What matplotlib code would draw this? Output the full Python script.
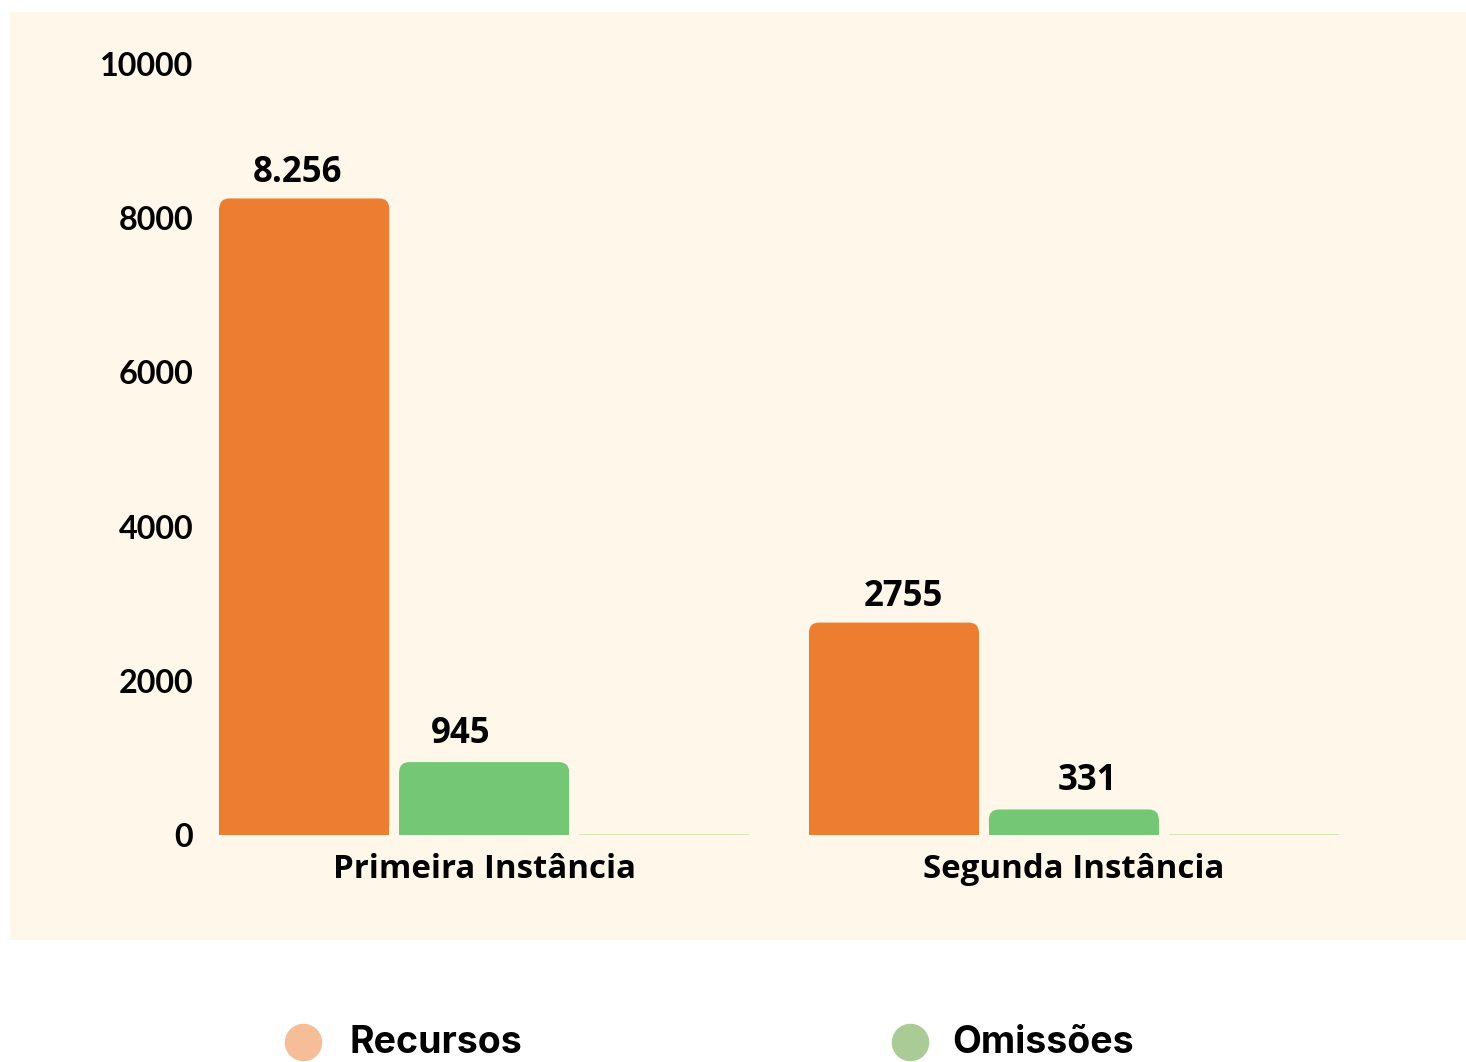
import matplotlib.pyplot as plt
from matplotlib.patches import FancyBboxPatch, Rectangle
from matplotlib.lines import Line2D

# dados
instancias = ["Primeira Instância", "Segunda Instância"]
recursos = [8256, 2755]
omissoes = [945, 331]
terceira = [0, 0]
rotulos_recursos = ["8.256", "2755"]
rotulos_omissoes = ["945", "331"]
yticks = [0, 2000, 4000, 6000, 8000, 10000]

laranja = "#ED7D31"
verde = "#74C774"
verde_claro = "#C9E4A9"
fundo = "#FEF7EA"

fig = plt.figure(figsize=(14.66, 10.62), dpi=100, facecolor="white")
fig.patches.append(Rectangle((10 / 1466, 122 / 1062), 1456 / 1466, 928 / 1062,
                             transform=fig.transFigure, facecolor=fundo,
                             edgecolor="none", zorder=-10))

ax = fig.add_axes([207 / 1466, 227 / 1062, 1144 / 1466, 771 / 1062])
ax.set_facecolor("none")
ax.set_xlim(-0.47, 1.47)
ax.set_ylim(0, 10000)

largura = 170 / 590
passo = 180 / 590
# raio dos cantos em unidades de x e razao de aspecto (dados por pixel)
raio = 10 / 590
aspecto = (10000 / 771) / (1 / 590)


def barra_arredondada(x, h, cor):
    # retangulo com cantos de cima arredondados e base reta
    r_y = raio * aspecto
    ax.add_patch(FancyBboxPatch((x - largura / 2, 0), largura, h,
                                boxstyle=f"round,pad=0,rounding_size={raio}",
                                mutation_aspect=aspecto, facecolor=cor,
                                edgecolor="none", zorder=2))
    ax.add_patch(Rectangle((x - largura / 2, 0), largura, max(h - r_y, 0),
                           facecolor=cor, edgecolor="none", zorder=2))


# deslocamento horizontal dos rotulos (pontos)
desloc_rec = [-5, 7]
desloc_omi = [-17, 10]

fonte_valor = dict(family="Open Sans", weight="bold", fontsize=25, color="black")
for i in range(len(instancias)):
    x1 = i - passo
    x2 = i
    x3 = i + passo
    barra_arredondada(x1, recursos[i], laranja)
    barra_arredondada(x2, omissoes[i], verde)
    ax.hlines(terceira[i], x3 - largura / 2, x3 + largura / 2,
              color=verde_claro, linewidth=1.2, zorder=2)
    ax.annotate(rotulos_recursos[i], (x1, recursos[i]), xytext=(desloc_rec[i], 12),
                textcoords="offset points", ha="center", va="baseline", **fonte_valor)
    ax.annotate(rotulos_omissoes[i], (x2, omissoes[i]), xytext=(desloc_omi[i], 14),
                textcoords="offset points", ha="center", va="baseline", **fonte_valor)

ax.set_xticks(range(len(instancias)))
ax.set_xticklabels(instancias, family="Open Sans", weight="bold", fontsize=23.8)
ax.set_yticks(yticks)
ax.set_yticklabels([str(v) for v in yticks], family="Lato", weight="bold", fontsize=23.3)
ax.tick_params(axis="both", length=0)
ax.tick_params(axis="x", pad=13)
ax.tick_params(axis="y", pad=10)
for s in ax.spines.values():
    s.set_visible(False)

# legenda na base da figura
legenda = [("Recursos", "#F5BE98", 303, 350), ("Omissões", "#AACB96", 910, 952)]
for nome, cor, xc, xt in legenda:
    fig.add_artist(Line2D([xc / 1466], [20 / 1062], marker="o", markersize=26,
                          color=cor, linestyle="none", transform=fig.transFigure))
    fig.text(xt / 1466, 1 / 1062, nome, family="Inter", weight="bold",
             fontsize=27, color="black", ha="left", va="bottom")

fig.savefig("out.png", dpi=100, facecolor="white")
